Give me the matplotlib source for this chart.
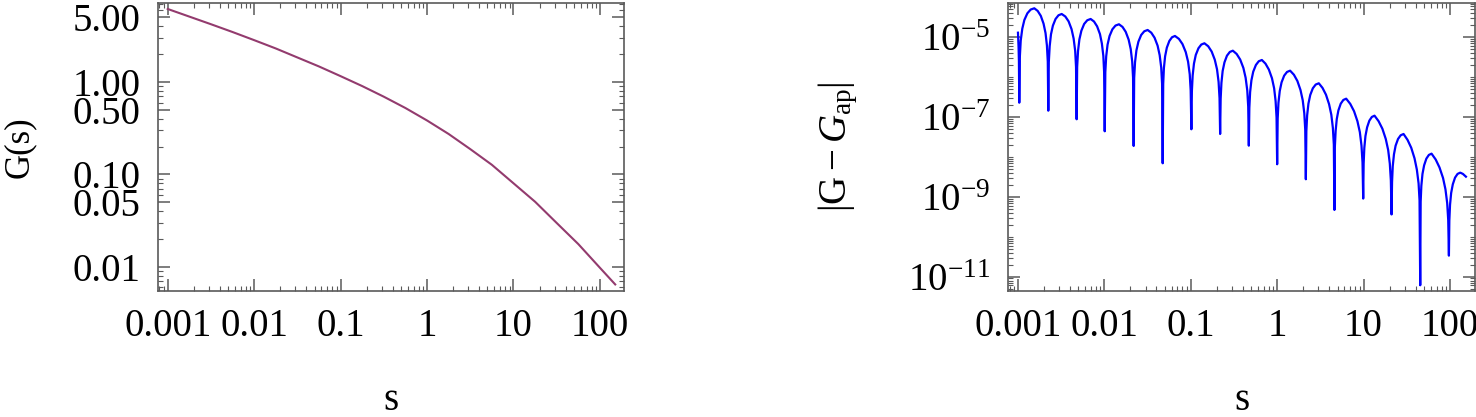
import numpy as np
import matplotlib
matplotlib.use("Agg")
import matplotlib.pyplot as plt
from matplotlib.ticker import FixedLocator, FixedFormatter, LogLocator, NullFormatter

plt.rcParams['font.family'] = ['Liberation Serif', 'DejaVu Serif']
plt.rcParams['mathtext.fontset'] = 'custom'
plt.rcParams['mathtext.rm'] = 'Liberation Serif'
plt.rcParams['mathtext.it'] = 'Liberation Serif:italic'
plt.rcParams['mathtext.bf'] = 'Liberation Serif:bold'

# ---------------- data ----------------
# Left panel: G(s), stored as log10 values
G_log_s = [-3.0, -2.75, -2.5, -2.25, -2.0, -1.75, -1.5, -1.25, -1.0, -0.75,
           -0.5, -0.25, 0.0, 0.25, 0.5, 0.75, 1.0, 1.25, 1.5, 1.75, 2.0, 2.177]
G_log_val = [0.791, 0.7085, 0.626, 0.5415, 0.4535, 0.3635, 0.266, 0.1685,
             0.0635, -0.044, -0.159, -0.2815, -0.4165, -0.5628, -0.7265,
             -0.8965, -1.0965, -1.2965, -1.5265, -1.755, -2.0115, -2.192]

# Right panel: |G - G_ap|  (log10 s, log10 error)
err_log_s = [
    -3.000, -2.993, -2.989, -2.985,
    -2.978, -2.968, -2.950, -2.926, -2.891, -2.853, -2.811,
    -2.772, -2.736, -2.704, -2.681, -2.665, -2.655, -2.649,
    -2.643, -2.633, -2.618, -2.596, -2.565, -2.531, -2.494,
    -2.452, -2.414, -2.380, -2.356, -2.338, -2.328, -2.321,
    -2.315, -2.305, -2.289, -2.266, -2.234, -2.198, -2.159,
    -2.120, -2.084, -2.051, -2.029, -2.012, -2.003, -1.996,
    -1.989, -1.979, -1.963, -1.940, -1.907, -1.871, -1.831,
    -1.790, -1.753, -1.719, -1.695, -1.678, -1.668, -1.661,
    -1.655, -1.645, -1.629, -1.606, -1.574, -1.538, -1.499,
    -1.457, -1.419, -1.384, -1.360, -1.342, -1.332, -1.325,
    -1.319, -1.311, -1.297, -1.277, -1.248, -1.217, -1.183,
    -1.137, -1.096, -1.058, -1.031, -1.012, -1.001, -0.993,
    -0.987, -0.978, -0.963, -0.942, -0.911, -0.878, -0.842,
    -0.798, -0.758, -0.722, -0.696, -0.678, -0.667, -0.660,
    -0.654, -0.645, -0.631, -0.610, -0.581, -0.548, -0.513,
    -0.469, -0.428, -0.391, -0.365, -0.346, -0.335, -0.328,
    -0.322, -0.313, -0.298, -0.277, -0.246, -0.213, -0.177,
    -0.135, -0.096, -0.060, -0.035, -0.018, -0.007, 0.000,
    0.006, 0.015, 0.030, 0.051, 0.081, 0.114, 0.150,
    0.194, 0.234, 0.270, 0.296, 0.314, 0.325, 0.332,
    0.338, 0.347, 0.362, 0.383, 0.413, 0.446, 0.482,
    0.525, 0.565, 0.601, 0.627, 0.645, 0.656, 0.663,
    0.668, 0.677, 0.690, 0.709, 0.736, 0.766, 0.799,
    0.846, 0.890, 0.929, 0.957, 0.976, 0.988, 0.996,
    1.001, 1.009, 1.022, 1.041, 1.067, 1.096, 1.127,
    1.174, 1.218, 1.257, 1.285, 1.304, 1.316, 1.324,
    1.330, 1.338, 1.352, 1.371, 1.399, 1.430, 1.463,
    1.509, 1.552, 1.590, 1.617, 1.637, 1.648, 1.656,
    1.661, 1.669, 1.682, 1.701, 1.727, 1.756, 1.787,
    1.835, 1.879, 1.920, 1.948, 1.968, 1.980, 1.988,
    1.993, 2.001, 2.014, 2.033, 2.059, 2.088, 2.119,
    2.150, 2.185,
]
err_log_val = [
    -4.885, -5.250, -5.600, -6.640,
    -5.475, -5.079, -4.783, -4.566, -4.398, -4.305, -4.273,
    -4.339, -4.462, -4.658, -4.895, -5.205, -5.609, -6.840,
    -5.618, -5.222, -4.926, -4.709, -4.541, -4.448, -4.416,
    -4.479, -4.601, -4.795, -5.030, -5.339, -5.743, -7.055,
    -5.743, -5.347, -5.051, -4.834, -4.666, -4.573, -4.541,
    -4.604, -4.726, -4.920, -5.155, -5.464, -5.868, -7.356,
    -5.876, -5.480, -5.184, -4.967, -4.799, -4.706, -4.674,
    -4.740, -4.863, -5.059, -5.296, -5.606, -6.010, -7.724,
    -6.019, -5.623, -5.327, -5.110, -4.942, -4.849, -4.817,
    -4.885, -5.011, -5.209, -5.447, -5.758, -6.163, -8.158,
    -6.169, -5.773, -5.477, -5.260, -5.092, -4.999, -4.967,
    -5.040, -5.170, -5.372, -5.613, -5.926, -6.332, -7.306,
    -6.352, -5.956, -5.660, -5.443, -5.275, -5.182, -5.150,
    -5.225, -5.358, -5.562, -5.804, -6.118, -6.525, -7.424,
    -6.538, -6.142, -5.846, -5.629, -5.461, -5.368, -5.336,
    -5.418, -5.558, -5.768, -6.014, -6.331, -6.740, -7.717,
    -6.771, -6.375, -6.079, -5.862, -5.694, -5.601, -5.569,
    -5.661, -5.809, -6.027, -6.279, -6.600, -7.011, -8.183,
    -7.039, -6.643, -6.347, -6.130, -5.962, -5.869, -5.837,
    -5.939, -6.095, -6.321, -6.579, -6.904, -7.317, -8.559,
    -7.355, -6.959, -6.663, -6.446, -6.278, -6.185, -6.153,
    -6.269, -6.439, -6.677, -6.943, -7.274, -7.691, -9.328,
    -7.741, -7.345, -7.049, -6.832, -6.664, -6.571, -6.539,
    -6.669, -6.853, -7.103, -7.377, -7.714, -8.135, -9.043,
    -8.167, -7.771, -7.475, -7.258, -7.090, -6.997, -6.965,
    -7.103, -7.292, -7.548, -7.827, -8.167, -8.589, -9.441,
    -8.626, -8.230, -7.934, -7.717, -7.549, -7.456, -7.424,
    -7.571, -7.770, -8.034, -8.318, -8.662, -9.087, -11.216,
    -9.119, -8.723, -8.427, -8.210, -8.042, -7.949, -7.917,
    -8.064, -8.263, -8.527, -8.811, -9.155, -9.580, -10.474,
    -9.595, -9.199, -8.903, -8.686, -8.518, -8.425, -8.393,
    -8.425, -8.494,
]

x_ticks = [0.001, 0.01, 0.1, 1, 10, 100]
x_labels = ["0.001", "0.01", "0.1", "1", "10", "100"]
left_yticks = [0.01, 0.05, 0.10, 0.50, 1.00, 5.00]
left_ylabels = ["0.01", "0.05", "0.10", "0.50", "1.00", "5.00"]
right_yticks = [1e-11, 1e-9, 1e-7, 1e-5]
right_ylabels = [r"$10^{-11}$", r"$10^{-9}$", r"$10^{-7}$", r"$10^{-5}$"]

# ---------------- figure ----------------
W, H = 1476, 417
fig = plt.figure(figsize=(W / 100, H / 100), dpi=100)

def px_axes(l, r, t, b):
    return fig.add_axes([l / W, 1 - b / H, (r - l) / W, (b - t) / H])

axL = px_axes(158.3, 624.3, 2.7, 291.0)
axR = px_axes(1008.3, 1475.0, 2.7, 291.0)

frame_col = "#5a5a5a"
tick_fs = 28
label_fs = 28

for ax in (axL, axR):
    ax.set_xscale("log")
    ax.set_yscale("log")
    for sp in ax.spines.values():
        sp.set_color(frame_col)
        sp.set_linewidth(1.2)
    ax.tick_params(which="both", direction="in", top=True, right=True,
                   color=frame_col, labelsize=tick_fs)
    ax.tick_params(axis="x", which="both", pad=12)
    ax.tick_params(axis="y", which="both", pad=13)
    ax.tick_params(which="major", length=8.8, width=1.1)
    ax.tick_params(which="minor", length=3.8, width=0.8)
    ax.xaxis.set_major_locator(FixedLocator(x_ticks))
    ax.xaxis.set_major_formatter(FixedFormatter(x_labels))
    ax.xaxis.set_minor_locator(LogLocator(base=10, subs=np.arange(2, 10), numticks=100))
    ax.xaxis.set_minor_formatter(NullFormatter())

# Left panel
axL.plot(10 ** np.array(G_log_s), 10 ** np.array(G_log_val),
         color="#933B6E", lw=1.5, solid_joinstyle="round")
axL.set_xlim(10 ** -3.109, 10 ** 2.282)
axL.set_ylim(10 ** -2.263, 10 ** 0.859)
axL.yaxis.set_major_locator(FixedLocator(left_yticks))
axL.yaxis.set_major_formatter(FixedFormatter(left_ylabels))
axL.yaxis.set_minor_locator(LogLocator(base=10, subs=np.arange(2, 10), numticks=100))
axL.yaxis.set_minor_formatter(NullFormatter())
axL.set_xlabel("s", fontsize=label_fs)
axL.set_ylabel("G(s)", fontsize=25)
axL.xaxis.set_label_coords(0.5, -0.315)
axL.yaxis.set_label_coords(-0.262, 0.5)

# Right panel
axR.plot(10 ** np.array(err_log_s), 10 ** np.array(err_log_val),
         color="#0000FF", lw=1.6, solid_joinstyle="round")
axR.set_xlim(10 ** -3.112, 10 ** 2.29)
axR.set_ylim(10 ** -11.36, 10 ** -4.133)
axR.yaxis.set_major_locator(FixedLocator(right_yticks))
axR.yaxis.set_major_formatter(FixedFormatter(right_ylabels))
axR.yaxis.set_minor_locator(LogLocator(base=10, subs=np.arange(1, 10), numticks=100))
axR.yaxis.set_minor_formatter(NullFormatter())
axR.set_xlabel("s", fontsize=label_fs)
axR.set_ylabel(r"$|\mathrm{G}-G_{\mathrm{ap}}|$", fontsize=label_fs)
axR.xaxis.set_label_coords(0.5, -0.315)
axR.yaxis.set_label_coords(-0.318, 0.5)

fig.savefig("out.png", dpi=100)
